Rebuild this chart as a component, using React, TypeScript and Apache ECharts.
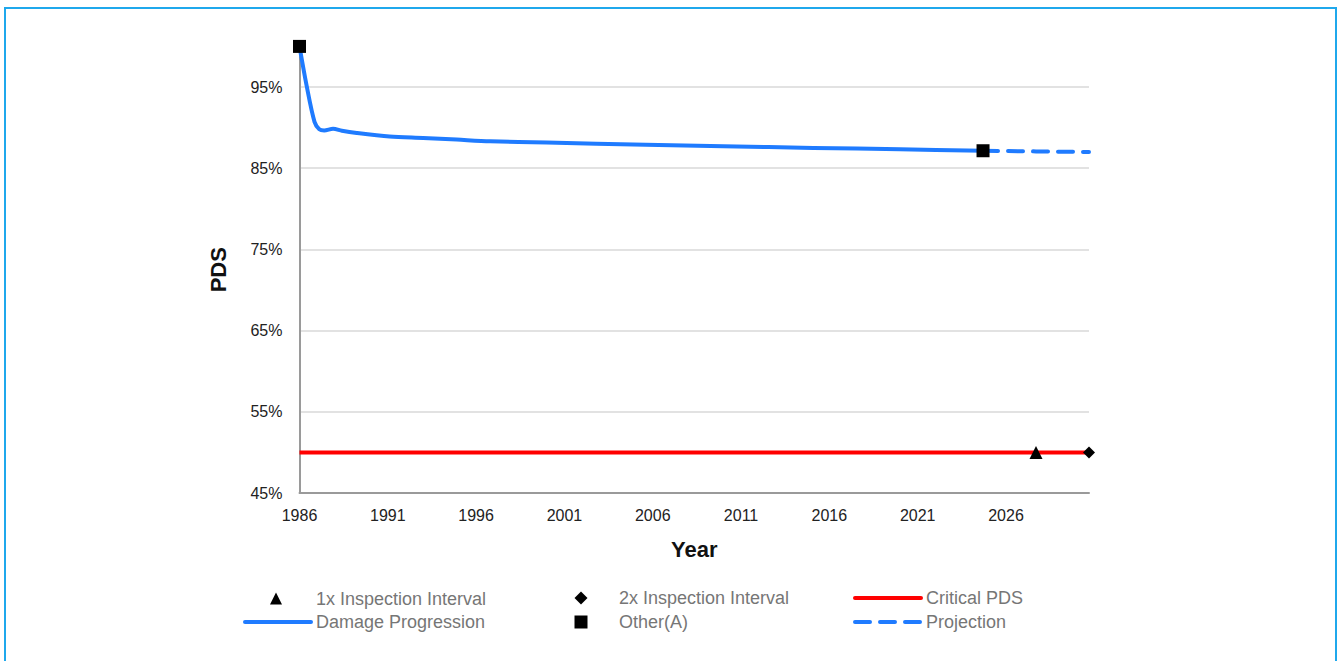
import React, { useEffect, useRef } from 'react';
import * as echarts from 'echarts';

const FONT = "'Liberation Sans', Arial, sans-serif";

// Damage progression (year, PDS %)
const damageYears = [1986, 1986.4, 1986.85, 1987.12, 1987.4, 1987.9, 1988.4, 1989.24, 1991.1, 1993.0, 1994.9, 1996.8, 2000, 2005.6, 2010, 2015.1, 2020, 2024.7];
const damageValues = [100, 95.2, 90.7, 89.8, 89.65, 89.87, 89.62, 89.34, 88.9, 88.72, 88.52, 88.32, 88.15, 87.9, 87.7, 87.5, 87.33, 87.15];

const projectionYears = [2024.7, 2027.7, 2030.7];
const projectionValues = [87.15, 87.07, 87.0];

const criticalYears = [1986, 2030.7];
const criticalValues = [50, 50];

const otherYears = [1986, 2024.7];
const otherValues = [100, 87.15];

const inspect1Years = [2027.7];
const inspect1Values = [50];

const inspect2Years = [2030.7];
const inspect2Values = [50];

const xMin = 1986;
const xMax = 2030.7;
const xInterval = 5;
const yMin = 45;
const yMax = 100;
const yInterval = 10;

const zip = (xs: number[], ys: number[]) => xs.map((x, i) => [x, ys[i]]);

const BLUE = '#1f7bff';
const RED = '#ff0000';

function lineLegend(name: string, left: number, top: number) {
  return {
    data: [name],
    left,
    top,
    orient: 'horizontal',
    padding: 0,
    itemWidth: 66,
    itemHeight: 13,
    selectedMode: false,
    itemStyle: { opacity: 0 },
    lineStyle: { width: 4, cap: 'round' },
    textStyle: { fontSize: 18, color: '#767676', fontFamily: FONT },
  };
}

function symbolLegend(name: string, centerX: number, top: number, size: number, textX: number) {
  const left = centerX - size / 2;
  const pad = textX - (left + size + 5);
  return {
    data: [name],
    left,
    top: top + (13 - size) / 2,
    orient: 'horizontal',
    padding: 0,
    itemWidth: size,
    itemHeight: size,
    selectedMode: false,
    textStyle: { fontSize: 18, color: '#767676', fontFamily: FONT, padding: [0, 0, 0, pad] },
  };
}

export default function App() {
  const ref = useRef<HTMLDivElement>(null);
  useEffect(() => {
    if (!ref.current) return;
    const chart = echarts.init(ref.current, undefined, { renderer: 'svg' });
    chart.setOption({
      animation: false,
      backgroundColor: '#ffffff',
      textStyle: { fontFamily: FONT },
      graphic: [
        {
          type: 'rect',
          shape: { x: 5, y: 8, width: 1331, height: 700 },
          style: { fill: 'none', stroke: '#1fa8ec', lineWidth: 2 },
          silent: true,
          z: 100,
        },
      ],
      legend: [
        symbolLegend('1x Inspection Interval', 276, 589, 12, 316),
        lineLegend('Damage Progression', 243, 613),
        symbolLegend('2x Inspection Interval', 581, 589, 13, 619),
        symbolLegend('Other(A)', 581, 613, 13, 619),
        lineLegend('Critical PDS', 853, 589),
        lineLegend('Projection', 853, 613),
      ],
      grid: { left: 299.5, right: 250, top: 46.4, bottom: 168, containLabel: false },
      xAxis: {
        type: 'value',
        min: xMin,
        max: xMax,
        interval: xInterval,
        name: 'Year',
        nameLocation: 'middle',
        nameGap: 45,
        nameTextStyle: { fontSize: 22, fontWeight: 'bold', color: '#111', fontFamily: FONT },
        axisLine: { show: true, lineStyle: { color: '#9a9a9a', width: 2 } },
        axisTick: { show: false },
        splitLine: { show: false },
        axisLabel: {
          fontSize: 16,
          color: '#222',
          fontFamily: FONT,
          margin: 14,
          showMaxLabel: false,
          formatter: (v: number) => String(v),
        },
      },
      yAxis: {
        type: 'value',
        min: yMin,
        max: yMax,
        interval: yInterval,
        name: 'PDS',
        nameLocation: 'middle',
        nameGap: 70,
        nameRotate: 90,
        nameTextStyle: { fontSize: 22, fontWeight: 'bold', color: '#111', fontFamily: FONT },
        axisLine: { show: true, lineStyle: { color: '#9a9a9a', width: 2 } },
        axisTick: { show: false },
        splitLine: { show: true, showMaxLine: false, showMinLine: false, lineStyle: { color: '#d9d9d9', width: 1.5 } },
        axisLabel: {
          fontSize: 16,
          color: '#222',
          fontFamily: FONT,
          margin: 17,
          showMaxLabel: false,
          formatter: (v: number) => (v === yMax ? '' : `${v}%`),
        },
      },
      series: [
        {
          name: 'Critical PDS',
          type: 'line',
          data: zip(criticalYears, criticalValues),
          symbol: 'none',
          lineStyle: { color: RED, width: 4 },
          itemStyle: { color: RED },
          z: 2,
        },
        {
          name: 'Damage Progression',
          type: 'line',
          data: zip(damageYears, damageValues),
          symbol: 'none',
          smooth: 0.3,
          lineStyle: { color: BLUE, width: 4, cap: 'round', join: 'round' },
          itemStyle: { color: BLUE },
          z: 3,
        },
        {
          name: 'Projection',
          type: 'line',
          data: zip(projectionYears, projectionValues),
          symbol: 'none',
          lineStyle: { color: BLUE, width: 4, type: [15, 10], cap: 'round' },
          itemStyle: { color: BLUE },
          z: 3,
        },
        {
          name: '1x Inspection Interval',
          type: 'scatter',
          data: zip(inspect1Years, inspect1Values),
          symbol: 'triangle',
          symbolSize: 13,
          itemStyle: { color: '#000', opacity: 1 },
          z: 5,
        },
        {
          name: '2x Inspection Interval',
          type: 'scatter',
          data: zip(inspect2Years, inspect2Values),
          symbol: 'diamond',
          symbolSize: 12,
          itemStyle: { color: '#000', opacity: 1 },
          z: 5,
        },
        {
          name: 'Other(A)',
          type: 'scatter',
          data: zip(otherYears, otherValues),
          symbol: 'rect',
          symbolSize: 13,
          itemStyle: { color: '#000', opacity: 1 },
          z: 5,
        },
      ],
    });
    return () => chart.dispose();
  }, []);
  return (
    <div
      ref={ref}
      style={{ position: 'absolute', left: 0, top: 0, width: 1339, height: 661 }}
    />
  );
}
